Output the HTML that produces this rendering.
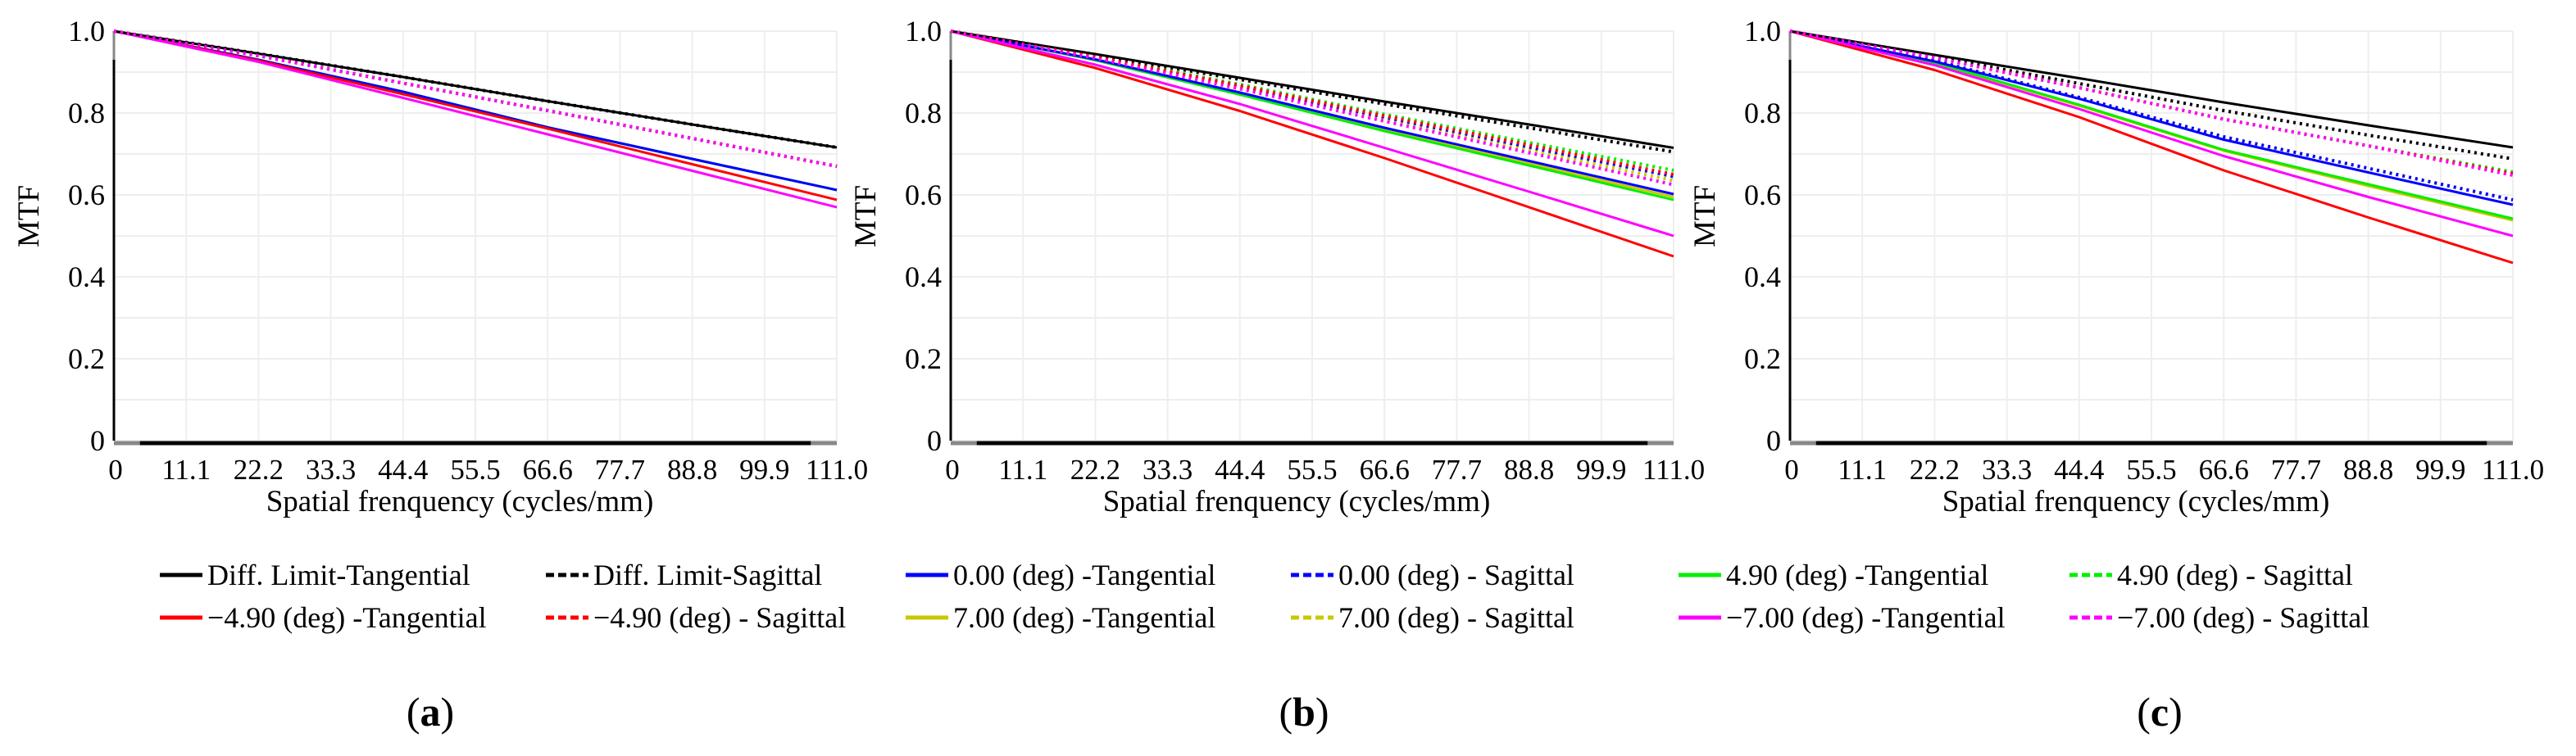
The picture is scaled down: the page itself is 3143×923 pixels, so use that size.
<!DOCTYPE html>
<html><head><meta charset="utf-8"><style>
html,body{margin:0;padding:0;background:#fff;}
svg{display:block;}
svg text{font-family:"Liberation Serif","DejaVu Serif",serif !important;}
</style></head><body>
<svg id="fig" width="3143" height="923" viewBox="0 0 3143 923" xmlns="http://www.w3.org/2000/svg" style="font-family:'Liberation Serif','DejaVu Serif',serif"></svg>
<script>
// ---- data ----
const freqs = [0, 22.2, 44.4, 66.6, 88.8, 111];
const xTicks = ["0","11.1","22.2","33.3","44.4","55.5","66.6","77.7","88.8","99.9","111.0"];
const yTicks = ["0","0.2","0.4","0.6","0.8","1.0"];
// draw order
const seriesNames = ["t7","s7","t49","s49","t0","s0","tm49","tm7","diff-t","diff-s","sm49","sm7"];
const seriesColors = ["#c8c800","#c8c800","#00ee00","#00ee00","#0000ff","#0000ff","#ff0000","#ff00ff","#000","#000","#ff0000","#ff00ff"];
const seriesDashed = [false,true,false,true,false,true,false,false,false,true,true,true];
// panel (a)
const aT7=[1,.93,.852,.765,.688,.612];
const aS7=[1,.94,.873,.806,.738,.67];
const aT49=[1,.93,.852,.765,.688,.612];
const aS49=[1,.94,.873,.806,.738,.67];
const aT0=[1,.93,.852,.765,.688,.612];
const aS0=[1,.94,.873,.806,.738,.67];
const aTm49=[1,.928,.846,.762,.675,.588];
const aTm7=[1,.925,.837,.748,.659,.57];
const aDiffT=[1,.945,.888,.829,.772,.716];
const aDiffS=[1,.945,.888,.829,.772,.716];
const aSm49=[1,.94,.873,.806,.738,.67];
const aSm7=[1,.94,.873,.806,.738,.67];
// panel (b)
const bT7=[1,.93,.848,.76,.677,.595];
const bS7=[1,.935,.862,.785,.71,.635];
const bT49=[1,.929,.845,.756,.672,.588];
const bS49=[1,.938,.87,.797,.728,.66];
const bT0=[1,.931,.85,.764,.683,.602];
const bS0=[1,.936,.865,.79,.717,.645];
const bTm49=[1,.91,.805,.69,.57,.45];
const bTm7=[1,.918,.822,.715,.608,.5];
const bDiffT=[1,.944,.886,.828,.772,.715];
const bDiffS=[1,.942,.882,.822,.764,.705];
const bSm49=[1,.937,.867,.793,.722,.65];
const bSm7=[1,.934,.859,.78,.703,.625];
// panel (c)
const cT7=[1,.922,.818,.708,.622,.538];
const cS7=[1,.928,.838,.742,.665,.588];
const cT49=[1,.923,.82,.71,.626,.542];
const cS49=[1,.935,.862,.785,.72,.656];
const cT0=[1,.926,.835,.735,.655,.576];
const cS0=[1,.928,.838,.742,.665,.588];
const cTm49=[1,.905,.79,.66,.545,.434];
const cTm7=[1,.917,.81,.695,.595,.5];
const cDiffT=[1,.942,.885,.826,.77,.716];
const cDiffS=[1,.938,.872,.806,.746,.688];
const cSm49=[1,.935,.862,.785,.72,.652];
const cSm7=[1,.935,.862,.785,.72,.648];
const panelSeries=[
 [aT7,aS7,aT49,aS49,aT0,aS0,aTm49,aTm7,aDiffT,aDiffS,aSm49,aSm7],
 [bT7,bS7,bT49,bS49,bT0,bS0,bTm49,bTm7,bDiffT,bDiffS,bSm49,bSm7],
 [cT7,cS7,cT49,cS49,cT0,cS0,cTm49,cTm7,cDiffT,cDiffS,cSm49,cSm7]
];
const panelLetters=["a","b","c"];
const legendLabels=["Diff. Limit-Tangential","Diff. Limit-Sagittal","0.00 (deg) -Tangential","0.00 (deg) - Sagittal","4.90 (deg) -Tangential","4.90 (deg) - Sagittal","\u22124.90 (deg) -Tangential","\u22124.90 (deg) - Sagittal","7.00 (deg) -Tangential","7.00 (deg) - Sagittal","\u22127.00 (deg) -Tangential","\u22127.00 (deg) - Sagittal"];
const legendColors=["#000","#000","#0000ff","#0000ff","#00ee00","#00ee00","#ff0000","#ff0000","#c8c800","#c8c800","#ff00ff","#ff00ff"];
const legendDashed=[false,true,false,true,false,true,false,true,false,true,false,true];

// ---- layout ----
const NS="http://www.w3.org/2000/svg";
const svg=document.getElementById('fig');
function mk(tag,attrs,parent){const e=document.createElementNS(NS,tag);for(const k in attrs)e.setAttribute(k,attrs[k]);if(tag==='text')e.setAttribute('style',"font-family:'Liberation Serif','DejaVu Serif',serif");(parent||svg).appendChild(e);return e;}
const panelX=[139,1160,2184];
const plotW=882, yTop=38, yBot=538;
const panelCenters=[525,1591,2635];

panelX.forEach((ox,p)=>{
  const g=mk('g',{});
  
  
  const xs=v=>ox+v/111*plotW;
  const ys=v=>yBot-v*(yBot-yTop);
  for(let i=0;i<=10;i++){
    const gl=mk('line',{x1:xs(i*11.1),x2:xs(i*11.1),y1:yTop,y2:yBot,stroke:'#eeeeee','stroke-width':2},g);
    
    
  }
  for(let i=0;i<=10;i++){
    const gl=mk('line',{x1:ox,x2:ox+plotW,y1:ys(i/10),y2:ys(i/10),stroke:'#eeeeee','stroke-width':2},g);
    
    
  }
  const ya=mk('line',{x1:ox,x2:ox,y1:ys(0.93),y2:yBot,stroke:'#000','stroke-width':3},g);
  
  
  mk('line',{x1:ox,x2:ox,y1:yTop,y2:ys(0.93),stroke:'#888','stroke-width':3},g);
  mk('line',{x1:ox,x2:ox+plotW,y1:yBot+3,y2:yBot+3,stroke:'#888','stroke-width':5},g);
  const xa=mk('line',{x1:xs(4),x2:xs(107),y1:yBot+3,y2:yBot+3,stroke:'#000','stroke-width':5},g);
  
  
  yTicks.forEach((t,i)=>{
    const tx=mk('text',{x:ox-11,y:ys(i*0.2)+12,'font-size':36,'text-anchor':'end',fill:'#000'},g);
    tx.textContent=t;
    
    
  });
  xTicks.forEach((t,i)=>{
    const tx=mk('text',{x:xs(i*11.1)+(i==0?2:0),y:585,'font-size':35,'text-anchor':'middle',fill:'#000'},g);
    tx.textContent=t;
    
    
  });
  const xt=mk('text',{x:ox+422,y:624,'font-size':37,'text-anchor':'middle',fill:'#000'},g);
  xt.textContent='Spatial frenquency (cycles/mm)';
  
  
  const yt=mk('text',{x:0,y:0,'font-size':37,'text-anchor':'middle',fill:'#000',transform:'translate('+(ox-92)+',264) rotate(-90)'},g);
  yt.textContent='MTF';
  
  
  panelSeries[p].forEach((vals,s)=>{
    const pts=vals.map((v,i)=>xs(freqs[i]).toFixed(1)+','+ys(v).toFixed(1)).join(' ');
    const attrs={points:pts,fill:'none',stroke:seriesColors[s],'stroke-width':seriesDashed[s]?4:3,'stroke-linejoin':'round'};
    if(seriesDashed[s])attrs['stroke-dasharray']='3 5';
    const pl=mk('polyline',attrs,g);
    
    
  });
  const pt=mk('text',{x:panelCenters[p],y:886,'font-size':50,'text-anchor':'middle',fill:'#000'},g);
  pt.innerHTML='(<tspan font-weight="bold">'+panelLetters[p]+'</tspan>)';
  
  
});

// legend: row 1 = first six entries, row 2 = next six
const legX=[195,666,1105,1575,2048,2525];
const legY=[702,754];
legendLabels.forEach((lab,i)=>{
  const col=i%6, row=Math.floor(i/6);
  const g=mk('g',{});
  
  
  const attrs={x1:legX[col],x2:legX[col]+52,y1:legY[row],y2:legY[row],stroke:legendColors[i],'stroke-width':5};
  if(legendDashed[i])attrs['stroke-dasharray']='10 5';
  mk('line',attrs,g);
  const t=mk('text',{x:legX[col]+58,y:legY[row]+12,'font-size':36,fill:'#000'},g);
  t.textContent=lab;
});
</script>
</body></html>
